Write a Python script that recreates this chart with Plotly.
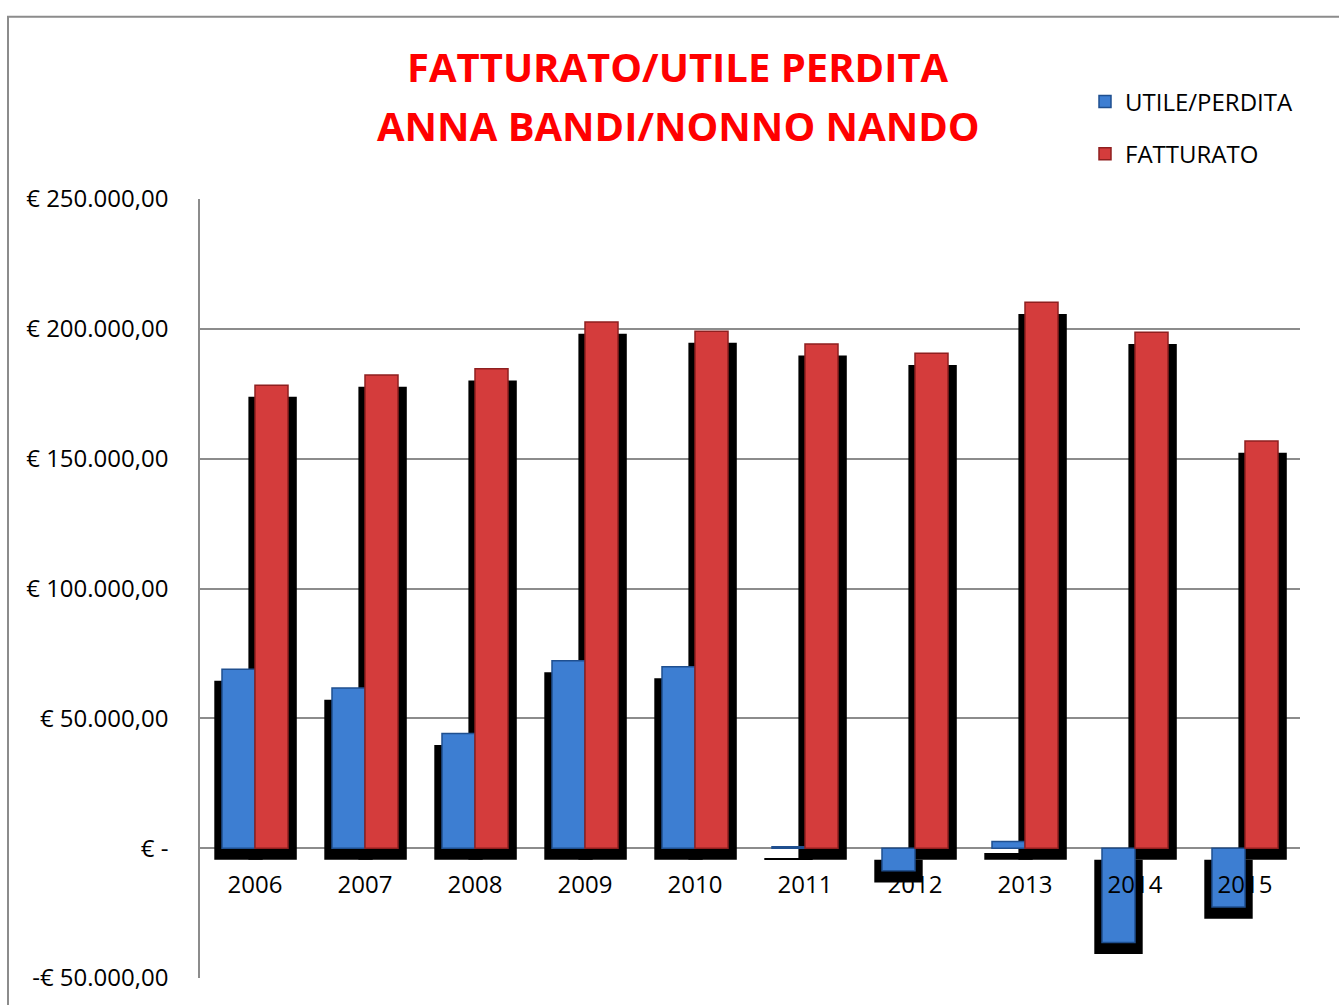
import plotly.graph_objects as go

years = ["2006", "2007", "2008", "2009", "2010", "2011", "2012", "2013", "2014", "2015"]
utile = [68950, 61650, 44200, 72200, 69900, 500, -8700, 2600, -36300, -22700]
fatturato = [178300, 182200, 184600, 202600, 199100, 194200, 190600, 210200, 198700, 156800]

ytickvals = [250000, 200000, 150000, 100000, 50000, 0, -50000]
yticktext = ["€ 250.000,00", "€ 200.000,00", "€ 150.000,00", "€ 100.000,00",
             "€ 50.000,00", "€ -", "-€ 50.000,00"]

FONT = "Open Sans"
SHADOW_BASE = -4500

PW, PH = 1339, 1005
ML, MT, MR, MB = 200, 199, 39, 24
PLOT_W = PW - ML - MR
PLOT_H = PH - MT - MB
BOT = MT + PLOT_H


def px_x(x):
    return (x - ML) / PLOT_W


def px_y(y):
    return (BOT - y) / PLOT_H


fig = go.Figure()

# shadows (drawn behind the bars)
fig.add_trace(go.Bar(x=years, y=utile, base=SHADOW_BASE, offset=-0.37, width=0.44,
                     marker=dict(color="black", line=dict(width=0)),
                     showlegend=False, hoverinfo="skip"))
fig.add_trace(go.Bar(x=years, y=fatturato, base=SHADOW_BASE, offset=-0.06, width=0.44,
                     marker=dict(color="black", line=dict(width=0)),
                     showlegend=False, hoverinfo="skip"))

fig.add_trace(go.Bar(x=years, y=utile, name="UTILE/PERDITA", offset=-0.3, width=0.3,
                     marker=dict(color="#3D7ED2", line=dict(color="#1F4F8F", width=1.5)),
                     legendgroup="a"))
fig.add_trace(go.Bar(x=years, y=fatturato, name="FATTURATO", offset=0.0, width=0.3,
                     marker=dict(color="#D43C3C", line=dict(color="#8F1F1F", width=1.5)),
                     legendgroup="b"))

fig.update_layout(
    barmode="overlay",
    width=PW, height=PH,
    margin=dict(l=ML, r=MR, t=MT, b=MB),
    paper_bgcolor="white", plot_bgcolor="white",
    font=dict(family=FONT, size=24, color="black"),
    showlegend=True,
    legend=dict(x=px_x(1085), y=px_y(79), xanchor="left", yanchor="top",
                font=dict(family=FONT, size=24, color="black"),
                tracegroupgap=18, itemwidth=30, bgcolor="rgba(0,0,0,0)"),
    xaxis=dict(type="category", anchor="free", position=px_y(851),
               showgrid=False, showline=False, ticks="outside", ticklen=15,
               tickcolor="rgba(0,0,0,0)", tickfont=dict(family=FONT, size=24, color="black"),
               layer="above traces", fixedrange=True),
    yaxis=dict(range=[-50000, 250000], tickvals=ytickvals, ticktext=yticktext,
               showgrid=True, gridcolor="#8C8C8C", gridwidth=1.5,
               zeroline=True, zerolinecolor="#8C8C8C", zerolinewidth=1.5,
               showline=True, linecolor="#8C8C8C", linewidth=1.5,
               ticks="outside", ticklen=25, tickcolor="rgba(0,0,0,0)",
               tickfont=dict(family=FONT, size=24, color="black"),
               layer="below traces", fixedrange=True),
    shapes=[dict(type="rect", xref="paper", yref="paper",
                 x0=px_x(8), x1=1.2, y0=-0.2, y1=px_y(16),
                 line=dict(color="#8C8C8C", width=2), fillcolor="rgba(0,0,0,0)",
                 layer="below")],
    annotations=[
        dict(text="<b>FATTURATO/UTILE PERDITA</b>", xref="paper", yref="paper",
             x=px_x(678), y=px_y(66), xanchor="center", yanchor="middle",
             showarrow=False, font=dict(family=FONT, size=40, color="#FF0000")),
        dict(text="<b>ANNA BANDI/NONNO NANDO</b>", xref="paper", yref="paper",
             x=px_x(678), y=px_y(125), xanchor="center", yanchor="middle",
             showarrow=False, font=dict(family=FONT, size=40, color="#FF0000")),
    ],
)

fig.write_html("out.html", config={"displayModeBar": False},
               post_script="document.body.style.margin='0';document.body.style.overflow='hidden';")
